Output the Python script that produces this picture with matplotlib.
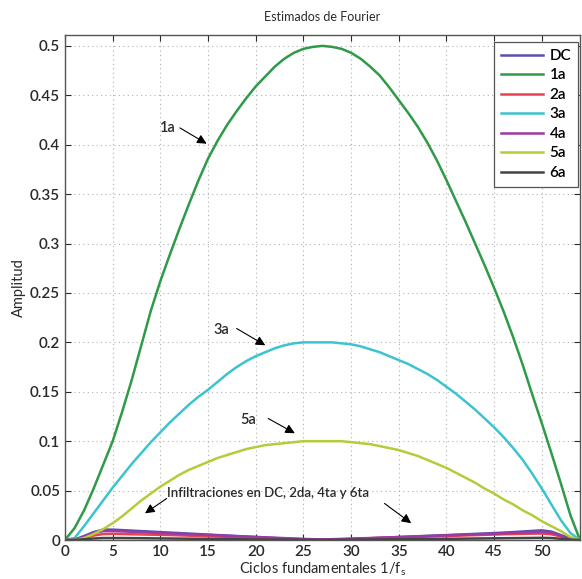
import numpy as np
import matplotlib
matplotlib.use("Agg")
import matplotlib.pyplot as plt

plt.rcParams['font.family'] = ['Lato', 'DejaVu Sans']
plt.rcParams['font.weight'] = 'semibold'

# Ciclos fundamentales (eje x)
ciclos = list(range(55))

# Amplitudes estimadas por armonico
amp_1a = [0.0, 0.012, 0.03, 0.052, 0.076, 0.10, 0.13, 0.162, 0.197, 0.232,
          0.262, 0.289, 0.315, 0.34, 0.364, 0.386, 0.404, 0.42, 0.434, 0.447,
          0.459, 0.469, 0.479, 0.487, 0.493, 0.497, 0.499, 0.5, 0.499, 0.497,
          0.493, 0.487, 0.479, 0.47, 0.458, 0.445, 0.432, 0.418, 0.402, 0.384,
          0.364, 0.343, 0.322, 0.30, 0.278, 0.255, 0.231, 0.205, 0.177, 0.147,
          0.118, 0.088, 0.057, 0.025, 0.0]
amp_3a = [0.0, 0.002, 0.014, 0.027, 0.04, 0.053, 0.065, 0.077, 0.088, 0.099,
          0.109, 0.119, 0.128, 0.137, 0.145, 0.152, 0.16, 0.168, 0.175, 0.181,
          0.186, 0.19, 0.194, 0.197, 0.199, 0.2, 0.2, 0.2, 0.2, 0.199,
          0.198, 0.196, 0.193, 0.19, 0.186, 0.182, 0.178, 0.173, 0.168, 0.162,
          0.155, 0.148, 0.14, 0.132, 0.123, 0.114, 0.104, 0.093, 0.081, 0.067,
          0.052, 0.036, 0.02, 0.007, 0.0]
amp_5a = [0.0, 0.0, 0.002, 0.006, 0.011, 0.017, 0.024, 0.032, 0.04, 0.047,
          0.054, 0.06, 0.066, 0.071, 0.075, 0.079, 0.083, 0.086, 0.089, 0.092,
          0.094, 0.096, 0.097, 0.098, 0.099, 0.1, 0.1, 0.1, 0.1, 0.1,
          0.099, 0.098, 0.097, 0.095, 0.093, 0.091, 0.088, 0.085, 0.081, 0.077,
          0.073, 0.068, 0.063, 0.058, 0.052, 0.047, 0.041, 0.036, 0.03, 0.025,
          0.019, 0.014, 0.009, 0.003, 0.0]
amp_dc = [0.0, 0.0005, 0.004, 0.008, 0.0105, 0.0105, 0.010, 0.0095, 0.009, 0.0085,
          0.008, 0.0075, 0.007, 0.0065, 0.006, 0.0055, 0.005, 0.0045, 0.004, 0.0035,
          0.003, 0.0025, 0.002, 0.0015, 0.001, 0.0006, 0.0003, 0.0001, 0.0003, 0.0006,
          0.001, 0.0014, 0.0018, 0.0022, 0.0026, 0.003, 0.0034, 0.0038, 0.0042, 0.0046,
          0.005, 0.0054, 0.0058, 0.0062, 0.0066, 0.007, 0.0075, 0.008, 0.0086, 0.0092,
          0.0098, 0.0085, 0.005, 0.0015, 0.0]
amp_2a = [0.0, 0.0002, 0.002, 0.0045, 0.006, 0.0062, 0.006, 0.0058, 0.0056, 0.0054,
          0.0052, 0.005, 0.0047, 0.0044, 0.0041, 0.0038, 0.0035, 0.0032, 0.0029, 0.0026,
          0.0023, 0.002, 0.0017, 0.0014, 0.0011, 0.0008, 0.0005, 0.0003, 0.0005, 0.0008,
          0.0011, 0.0014, 0.0017, 0.002, 0.0023, 0.0026, 0.0029, 0.0032, 0.0035, 0.0038,
          0.004, 0.0043, 0.0046, 0.0049, 0.0052, 0.0055, 0.0058, 0.006, 0.0062, 0.0064,
          0.0065, 0.0058, 0.0035, 0.001, 0.0]
amp_4a = [0.0, 0.0003, 0.003, 0.007, 0.009, 0.009, 0.0087, 0.0083, 0.0079, 0.0075,
          0.0071, 0.0067, 0.0063, 0.0059, 0.0055, 0.0051, 0.0047, 0.0043, 0.0039, 0.0035,
          0.0031, 0.0027, 0.0023, 0.0019, 0.0015, 0.0011, 0.0008, 0.0006, 0.0008, 0.0011,
          0.0014, 0.0017, 0.002, 0.0023, 0.0026, 0.003, 0.0033, 0.0036, 0.004, 0.0043,
          0.0047, 0.005, 0.0054, 0.0057, 0.0061, 0.0064, 0.0068, 0.0072, 0.0076, 0.008,
          0.0084, 0.0075, 0.0045, 0.0012, 0.0]
amp_6a = [0.0, 0.0001, 0.0008, 0.0015, 0.002, 0.002, 0.002, 0.0019, 0.0018, 0.0017,
          0.0016, 0.0015, 0.0014, 0.0013, 0.0012, 0.0011, 0.001, 0.0009, 0.0008, 0.0007,
          0.0006, 0.0005, 0.0004, 0.0003, 0.0002, 0.0002, 0.0001, 0.0001, 0.0001, 0.0002,
          0.0002, 0.0003, 0.0004, 0.0005, 0.0006, 0.0007, 0.0008, 0.0009, 0.001, 0.0011,
          0.0012, 0.0013, 0.0014, 0.0015, 0.0016, 0.0017, 0.0018, 0.0019, 0.002, 0.0021,
          0.0022, 0.002, 0.0012, 0.0004, 0.0]

series = [("DC", amp_dc, "#5a4fb0"),
          ("1a", amp_1a, "#2f9a48"),
          ("2a", amp_2a, "#e8414f"),
          ("3a", amp_3a, "#3cc3d0"),
          ("4a", amp_4a, "#9a3aa3"),
          ("5a", amp_5a, "#b5cc3a"),
          ("6a", amp_6a, "#444444")]

txt_col = "#2a2a2a"

fig = plt.figure(figsize=(5.82, 5.79), dpi=100)
ax = fig.add_axes([65/582, 39/579, 515/582, 505/579])

for name, vals, col in series:
    ax.plot(ciclos, vals, color=col, lw=1.8, label=name)

ax.set_xlim(0, 54)
ax.set_ylim(0, 0.511)
ax.set_xticks(range(0, 55, 5))
ax.set_yticks(np.arange(0, 0.51, 0.05))
ax.set_yticklabels(["0", "0.05", "0.1", "0.15", "0.2", "0.25", "0.3",
                    "0.35", "0.4", "0.45", "0.5"])
ax.grid(True, linestyle=(0, (1, 3)), color="#b0b0b0", lw=0.8)
ax.tick_params(direction="in", top=True, right=True, length=4,
               labelsize=11, colors=txt_col)
for s in ax.spines.values():
    s.set_color("#555555")
    s.set_linewidth(1.0)

ax.set_title("Estimados de Fourier", fontsize=9, color=txt_col, pad=10)
ax.set_xlabel(r"Ciclos fundamentales 1/f$_\mathregular{s}$", fontsize=10.5,
              color=txt_col, labelpad=1)
ax.set_ylabel("Amplitud", fontsize=10.5, color=txt_col, labelpad=3)

leg = ax.legend(loc="upper right", bbox_to_anchor=(0.996, 0.986), borderaxespad=0,
                fancybox=False, framealpha=1, edgecolor="#555555", fontsize=11,
                handlelength=2.8, labelspacing=0.36, borderpad=0.45, handletextpad=0.4)
leg.get_frame().set_linewidth(0.9)

arrow = dict(arrowstyle="-|>", color="black", lw=0.8, mutation_scale=14,
             shrinkA=0, shrinkB=0)
ax.annotate("", xy=(14.85, 0.401), xytext=(12.05, 0.417), arrowprops=arrow)
ax.text(10.8, 0.417, "1a", fontsize=10.5, color=txt_col, ha="center", va="center")
ax.annotate("", xy=(21.0, 0.197), xytext=(18.0, 0.214), arrowprops=arrow)
ax.text(16.4, 0.2125, "3a", fontsize=10.5, color=txt_col, ha="center", va="center")
ax.annotate("", xy=(24.1, 0.108), xytext=(21.3, 0.123), arrowprops=arrow)
ax.text(19.2, 0.121, "5a", fontsize=10.5, color=txt_col, ha="center", va="center")
ax.annotate("", xy=(8.39, 0.027), xytext=(10.66, 0.042), arrowprops=arrow)
ax.annotate("", xy=(36.3, 0.017), xytext=(33.5, 0.037), arrowprops=arrow)
ax.text(21.3, 0.0475, "Infiltraciones en DC, 2da, 4ta y 6ta", fontsize=9.5,
        color=txt_col, ha="center", va="center")

fig.savefig("out.png", dpi=100)
